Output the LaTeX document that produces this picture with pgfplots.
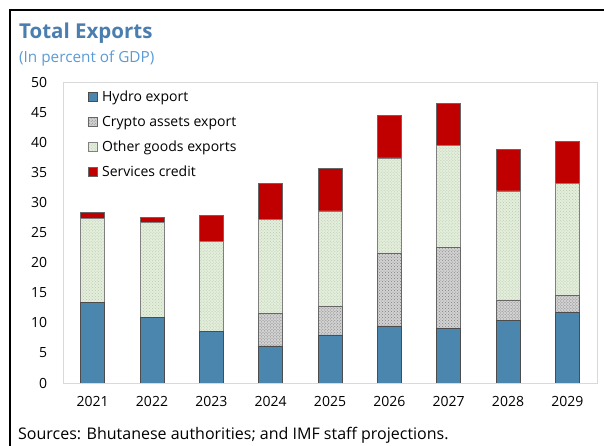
\documentclass[border=0pt]{standalone}
\usepackage{pgfplots}
\pgfplotsset{compat=1.18}
\usepackage{fontspec}
\setmainfont{Open Sans}
\usetikzlibrary{patterns}
\definecolor{hydro}{HTML}{4A86AE}
\definecolor{crypto}{HTML}{D2D2D2}
\definecolor{cryptopat}{HTML}{7F7F7F}
\definecolor{other}{HTML}{E4EFDB}
\definecolor{otherpat}{HTML}{B9C7B1}
\definecolor{serv}{HTML}{C00000}
\definecolor{titleblue}{HTML}{4A7EAF}
\definecolor{subblue}{HTML}{5B9BD5}
\definecolor{frame}{HTML}{D9D9D9}
\begin{document}
\fontsize{14bp}{17bp}\selectfont
\begin{tikzpicture}[x=1bp,y=1bp]
\useasboundingbox (-63,-63) rectangle (541,383);
\draw[line width=2.5bp] (-53,-63) -- (-53,373) -- (541,373);
\node[anchor=base west, inner sep=0, text=titleblue, font=\fontsize{20.5bp}{24bp}\selectfont\bfseries] at (-44,344) {Total Exports};
\node[anchor=base west, inner sep=0, text=subblue, font=\fontsize{15.3bp}{18bp}\selectfont] at (-44,320) {(In percent of GDP)};
\node[anchor=base west, inner sep=0, font=\fontsize{16bp}{19bp}\selectfont] at (-45,-57) {Sources: Bhutanese authorities; and IMF staff projections.};
\begin{axis}[
  at={(0,0)}, anchor=south west,
  scale only axis, width=534bp, height=301bp,
  ybar stacked, bar width=24bp,
  xmin=-0.5, xmax=8.5, ymin=0, ymax=50,
  xtick={0,...,8},
  xticklabels={2021,2022,2023,2024,2025,2026,2027,2028,2029},
  ytick={0,5,...,50},
  major tick length=0pt,
  axis line style={frame, line width=0.8bp},
  /pgf/number format/assume math mode=true,
  tick label style={font=\fontsize{14bp}{17bp}\selectfont},
  yticklabel style={anchor=east, xshift=-11bp},
  xticklabel style={yshift=-8bp},
  legend style={at={(rel axis cs:0.04,0.985)}, anchor=north west, draw=none, fill=none,
    row sep=8.5bp, font=\fontsize{14bp}{16bp}\selectfont,
    nodes={inner xsep=5bp}},
  legend cell align=left,
  legend image code/.code={\draw[#1] (0bp,-4.5bp) rectangle (9bp,4.5bp);},
]
\addplot[fill=hydro, draw=black!70, line width=0.6bp] coordinates {(0,13.4) (1,10.9) (2,8.6) (3,6.15) (4,8.0) (5,9.5) (6,9.1) (7,10.4) (8,11.7)};
\addplot[fill=crypto, draw=black!60, line width=0.6bp, postaction={pattern=crosshatch dots, pattern color=cryptopat}] coordinates {(0,0) (1,0) (2,0) (3,5.45) (4,4.7) (5,12.1) (6,13.4) (7,3.4) (8,2.8)};
\addplot[fill=other, draw=black!50, line width=0.6bp, postaction={pattern=crosshatch dots, pattern color=otherpat}] coordinates {(0,13.95) (1,15.8) (2,14.9) (3,15.6) (4,15.9) (5,15.8) (6,17.0) (7,18.1) (8,18.7)};
\addplot[fill=serv, draw=black!60, line width=0.6bp] coordinates {(0,0.95) (1,0.8) (2,4.4) (3,6.0) (4,7.0) (5,7.0) (6,7.0) (7,6.9) (8,6.9)};
\legend{Hydro export, Crypto assets export, Other goods exports, Services credit}
\end{axis}
\end{tikzpicture}
\end{document}
